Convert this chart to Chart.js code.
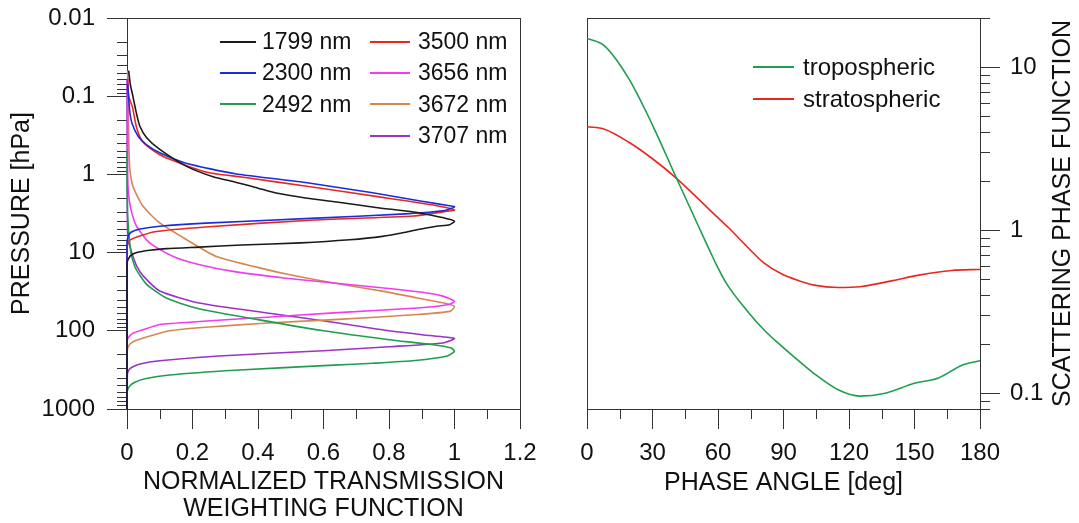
<!DOCTYPE html>
<html>
<head>
<meta charset="utf-8">
<script src="https://cdn.jsdelivr.net/npm/chart.js@4.4.1/dist/chart.umd.min.js"></script>
<style>
  html, body { margin: 0; padding: 0; background: #fff; }
  body { width: 1079px; height: 523px; position: relative; overflow: hidden;
         font-family: 'Liberation Sans', Arial, sans-serif; color: #111; }
  #leftCanvas { position: absolute; left: 0; top: 0; }
  #rightCanvas { position: absolute; left: 545px; top: 0; }
  .legend { position: absolute; font-size: 23px; }
  .legend .item { display: flex; align-items: center; height: 31.3px; white-space: nowrap; }
  .legend .swatch { display: inline-block; height: 2px; }
</style>
</head>
<body>
<canvas id="leftCanvas" width="545" height="523"></canvas>
<canvas id="rightCanvas" width="534" height="523"></canvas>
<div id="legendL1" class="legend" style="left:220px; top:26px"></div>
<div id="legendL2" class="legend" style="left:370px; top:26px"></div>
<div id="legendR" class="legend" style="left:753px; top:51px; font-size:24px"></div>
<script>
// ---- left panel: weighting functions (w = normalized weight, p = pressure hPa) ----
const w1799 = [0.005, 0.01, 0.018, 0.028, 0.039, 0.06, 0.1, 0.182, 0.265, 0.324, 0.40, 0.455, 0.545, 0.663, 0.76, 0.875, 0.94, 0.985, 1.0, 0.985, 0.945, 0.885, 0.85, 0.78, 0.68, 0.53, 0.35, 0.22, 0.12, 0.069, 0.03, 0.01, 0, 0];
const p1799 = [0.047, 0.07, 0.1, 0.16, 0.24, 0.34, 0.48, 0.79, 1.08, 1.23, 1.5, 1.73, 2.0, 2.32, 2.65, 3.03, 3.4, 3.75, 4.0, 4.4, 4.6, 5.1, 5.5, 6.2, 6.85, 7.5, 8.0, 8.5, 8.9, 9.35, 10.0, 11.0, 13.6, 1000];

const w2300 = [0.002, 0.008, 0.015, 0.035, 0.06, 0.1, 0.18, 0.33, 0.55, 0.75, 0.9, 0.98, 1.0, 0.97, 0.85, 0.56, 0.24, 0.1, 0.04, 0.012, 0.003, 0, 0];
const p2300 = [0.07, 0.15, 0.22, 0.33, 0.42, 0.53, 0.72, 0.98, 1.28, 1.72, 2.2, 2.5, 2.6, 2.9, 3.2, 3.65, 4.2, 4.6, 5.0, 5.5, 6.3, 7.5, 1000];

const w2492 = [0, 0.002, 0.012, 0.025, 0.06, 0.12, 0.21, 0.4, 0.6, 0.8, 0.93, 0.99, 1.0, 0.978, 0.88, 0.75, 0.631, 0.33, 0.13, 0.055, 0.024, 0.009, 0.002, 0, 0];
const p2492 = [0.5, 3.4, 10, 15.5, 25.5, 38, 51, 72, 100, 130, 150, 166, 183, 210, 240, 260, 275, 320, 368, 410, 455, 505, 566, 625, 1000];

const w3500 = [0.002, 0.005, 0.017, 0.028, 0.044, 0.075, 0.117, 0.24, 0.35, 0.56, 0.77, 0.93, 1.0, 0.98, 0.875, 0.56, 0.24, 0.085, 0.03, 0.01, 0, 0];
const p3500 = [0.06, 0.1, 0.14, 0.24, 0.36, 0.48, 0.61, 0.93, 1.08, 1.44, 1.94, 2.45, 2.85, 2.95, 3.4, 3.85, 4.7, 5.4, 6.3, 6.9, 8.3, 1000];

const w3656 = [0.002, 0.002, 0.003, 0.01, 0.029, 0.069, 0.141, 0.222, 0.324, 0.478, 0.631, 0.784, 0.916, 0.967, 1.0, 0.983, 0.886, 0.631, 0.427, 0.222, 0.1, 0.049, 0.018, 0.003, 0, 0];
const p3656 = [0.06, 0.8, 1.42, 2.56, 4.6, 7.5, 11.2, 14.3, 17.4, 21.1, 24.5, 28.4, 32.9, 36.3, 42, 46, 51, 59, 67, 76, 83, 97, 107, 124, 143, 1000];

const w3672 = [0.002, 0.003, 0.005, 0.008, 0.018, 0.049, 0.1, 0.182, 0.273, 0.427, 0.505, 0.631, 0.784, 0.886, 0.967, 1.0, 0.988, 0.886, 0.631, 0.42, 0.24, 0.13, 0.05, 0.016, 0.004, 0, 0];
const p3672 = [0.047, 0.1, 0.3, 0.79, 1.42, 2.56, 4.18, 6.84, 11.2, 16.5, 19.5, 24.5, 31.3, 38, 44, 48.7, 56, 62, 72, 80, 90, 100, 124, 140, 158, 192, 1000];

const w3707 = [0, 0.001, 0.003, 0.012, 0.03, 0.05, 0.1, 0.22, 0.44, 0.65, 0.8, 0.925, 1.0, 0.965, 0.8, 0.6, 0.28, 0.1, 0.04, 0.015, 0.005, 0.001, 0];
const p3707 = [0.06, 3, 6.8, 9.3, 15, 20, 31, 44, 60, 80, 100, 115, 125, 143, 160, 180, 210, 242, 266, 293, 320, 368, 1000];

const weightLabels = ['1799 nm', '2300 nm', '2492 nm', '3500 nm', '3656 nm', '3672 nm', '3707 nm'];
const weightColors = ['#1a1a1a', '#1c2bdc', '#1e9e4e', '#e8281e', '#ee3cee', '#d6874f', '#9a33c8'];

const weightTicks = [0, 0.2, 0.4, 0.6, 0.8, 1, 1.2];
const weightMinor = [0.1, 0.3, 0.5, 0.7, 0.9, 1.1];
const pressureTicks = [0.01, 0.1, 1, 10, 100, 1000];

// ---- right panel: phase functions ----
const tropAngle = [0, 8, 19, 30, 41, 51, 56, 59, 64, 73, 81, 89, 96, 104, 115, 125, 136, 150, 161, 172, 180];
const tropValue = [15, 13.5, 8.55, 4.41, 2.08, 1.06, 0.76, 0.624, 0.468, 0.324, 0.245, 0.195, 0.162, 0.132, 0.105, 0.096, 0.0995, 0.115, 0.124, 0.149, 0.158];

const stratAngle = [0, 8, 19, 30, 41, 57, 65, 73, 81, 89, 97, 104, 115, 125, 140, 152, 167, 180];
const stratValue = [4.31, 4.16, 3.47, 2.74, 2.08, 1.30, 1.03, 0.80, 0.63, 0.54, 0.49, 0.46, 0.445, 0.45, 0.49, 0.53, 0.566, 0.574];

const phaseLabels = ['tropospheric', 'stratospheric'];
const phaseColors = ['#1e9e4e', '#e8281e'];

const angleTicks = [0, 30, 60, 90, 120, 150, 180];
const angleMinor = [15, 45, 75, 105, 135, 165];
const phaseTicks = [0.1, 1, 10];
const phaseMinor = [0.08, 0.09, 0.2, 0.3, 0.4, 0.5, 0.6, 0.7, 0.8, 0.9, 2, 3, 4, 5, 6, 7, 8, 9, 20];

const AXIS = '#333';
const TEXT = '#111';
const FONT = "'Liberation Sans', Arial, sans-serif";

Chart.defaults.font.family = FONT;
Chart.defaults.color = TEXT;

function logMinors(lo, hi) {
    const out = [];
    for (let d = lo; d < hi; d *= 10) {
        for (let k = 2; k <= 9; k++) out.push(+(k * d).toPrecision(3));
    }
    return out;
}

// short ticks between the labelled ones
const minorTicksPlugin = {
    id: 'minorTicks',
    beforeDatasetsDraw(chart, args, opts) {
        const ctx = chart.ctx;
        ctx.save();
        ctx.strokeStyle = opts.color;
        ctx.lineWidth = 1;
        ctx.beginPath();
        Object.keys(opts.ticks).forEach(id => {
            const scale = chart.scales[id];
            opts.ticks[id].forEach(v => {
                const px = Math.round(scale.getPixelForValue(v)) + 0.5;
                if (scale.isHorizontal()) {
                    ctx.moveTo(px, scale.top); ctx.lineTo(px, scale.top + opts.length);
                } else if (scale.position === 'left') {
                    ctx.moveTo(scale.right - opts.length, px); ctx.lineTo(scale.right, px);
                } else {
                    ctx.moveTo(scale.left, px); ctx.lineTo(scale.left + opts.length, px);
                }
            });
        });
        ctx.stroke();
        ctx.restore();
    }
};

const framePlugin = {
    id: 'frame',
    beforeDatasetsDraw(chart, args, opts) {
        const {left, top, right, bottom} = chart.chartArea;
        const ctx = chart.ctx;
        ctx.save();
        ctx.strokeStyle = opts.color;
        ctx.lineWidth = 1;
        ctx.strokeRect(Math.round(left) + 0.5, Math.round(top) + 0.5,
                       Math.round(right) - Math.round(left), Math.round(bottom) - Math.round(top));
        ctx.restore();
    }
};

// right axis title reads bottom to top, which the built-in right title does not do
const sideTitlePlugin = {
    id: 'sideTitle',
    afterDraw(chart, args, opts) {
        const {top, bottom} = chart.chartArea;
        const ctx = chart.ctx;
        ctx.save();
        ctx.translate(opts.x, (top + bottom) / 2);
        ctx.rotate(-Math.PI / 2);
        ctx.font = opts.font;
        ctx.fillStyle = TEXT;
        ctx.textAlign = 'center';
        ctx.textBaseline = 'middle';
        ctx.fillText(opts.text, 0, 0);
        ctx.restore();
    }
};

function lineSet(label, color, xs, ys, extra) {
    return Object.assign({
        label: label,
        data: xs.map((x, i) => ({x: x, y: ys[i]})),
        borderColor: color,
        backgroundColor: color,
        borderWidth: 1.6,
        pointRadius: 0,
        showLine: true,
        fill: false,
        clip: 4
    }, extra || {});
}

const leftSets = [
    lineSet(weightLabels[0], weightColors[0], w1799, p1799),
    lineSet(weightLabels[1], weightColors[1], w2300, p2300),
    lineSet(weightLabels[2], weightColors[2], w2492, p2492),
    lineSet(weightLabels[3], weightColors[3], w3500, p3500),
    lineSet(weightLabels[4], weightColors[4], w3656, p3656),
    lineSet(weightLabels[5], weightColors[5], w3672, p3672),
    lineSet(weightLabels[6], weightColors[6], w3707, p3707)
].map(d => Object.assign(d, {tension: 0.2}));

const rightSets = [
    lineSet(phaseLabels[0], phaseColors[0], tropAngle, tropValue, {cubicInterpolationMode: 'monotone'}),
    lineSet(phaseLabels[1], phaseColors[1], stratAngle, stratValue, {cubicInterpolationMode: 'monotone'})
];

const tickFont = {size: 24};
const titleFont = {size: 25, lineHeight: 1.08};

new Chart(document.getElementById('leftCanvas'), {
    type: 'scatter',
    data: {datasets: leftSets},
    options: {
        responsive: false, animation: false, events: [],
        layout: {padding: {left: 0, top: 18, right: 25, bottom: 0}},
        plugins: {
            legend: {display: false}, tooltip: {enabled: false},
            minorTicks: {color: AXIS, length: 10, ticks: {x: weightMinor, y: logMinors(0.01, 1000)}},
            frame: {color: AXIS}
        },
        scales: {
            x: {
                type: 'linear', position: 'bottom', min: 0, max: 1.2,
                afterBuildTicks: s => { s.ticks = weightTicks.map(v => ({value: v})); },
                afterFit: s => { s.height = 114; s.paddingLeft = 0; s.paddingRight = 0; },
                grid: {drawOnChartArea: false, tickLength: 20, color: AXIS},
                border: {display: false},
                ticks: {autoSkip: false, maxRotation: 0, padding: 10, font: tickFont, color: TEXT, callback: v => String(v)},
                title: {display: true, text: ['NORMALIZED TRANSMISSION', 'WEIGHTING FUNCTION'],
                        font: titleFont, color: TEXT, padding: {top: 0, bottom: 0}}
            },
            y: {
                type: 'logarithmic', position: 'left', reverse: true, min: 0.01, max: 1000,
                afterBuildTicks: s => { s.ticks = pressureTicks.map(v => ({value: v})); },
                afterFit: s => { s.width = 127; s.paddingTop = 0; s.paddingBottom = 0; },
                grid: {drawOnChartArea: false, tickLength: 20, color: AXIS},
                border: {display: false},
                ticks: {autoSkip: false, padding: 12, font: tickFont, color: TEXT, callback: v => String(v)},
                title: {display: true, text: 'PRESSURE [hPa]', font: titleFont, color: TEXT, padding: {top: 9, bottom: 0}}
            }
        }
    },
    plugins: [minorTicksPlugin, framePlugin]
});

new Chart(document.getElementById('rightCanvas'), {
    type: 'scatter',
    data: {datasets: rightSets},
    options: {
        responsive: false, animation: false, events: [],
        layout: {padding: {left: 42, top: 18, right: 0, bottom: 0}},
        plugins: {
            legend: {display: false}, tooltip: {enabled: false},
            minorTicks: {color: AXIS, length: 10, ticks: {x: angleMinor, y: phaseMinor}},
            frame: {color: AXIS},
            sideTitle: {text: 'SCATTERING PHASE FUNCTION', x: 518, font: '25px ' + FONT}
        },
        scales: {
            x: {
                type: 'linear', position: 'bottom', min: 0, max: 180,
                afterBuildTicks: s => { s.ticks = angleTicks.map(v => ({value: v})); },
                afterFit: s => { s.height = 114; s.paddingLeft = 0; s.paddingRight = 0; },
                grid: {drawOnChartArea: false, tickLength: 20, color: AXIS},
                border: {display: false},
                ticks: {autoSkip: false, maxRotation: 0, padding: 10, font: tickFont, color: TEXT, callback: v => String(v)},
                title: {display: true, text: 'PHASE ANGLE [deg]', font: titleFont, color: TEXT, padding: {top: 0, bottom: 26.5}}
            },
            y: {
                type: 'logarithmic', position: 'right', min: 0.08, max: 20,
                afterBuildTicks: s => { s.ticks = phaseTicks.map(v => ({value: v})); },
                afterFit: s => { s.width = 99; s.paddingTop = 0; s.paddingBottom = 0; },
                grid: {drawOnChartArea: false, tickLength: 20, color: AXIS},
                border: {display: false},
                ticks: {autoSkip: false, padding: 10, font: tickFont, color: TEXT, callback: v => String(v)}
            }
        }
    },
    plugins: [minorTicksPlugin, framePlugin, sideTitlePlugin]
});

// legends, built from the datasets
function buildLegend(el, sets, swatch, gap) {
    sets.forEach(d => {
        const row = document.createElement('div');
        row.className = 'item';
        const line = document.createElement('span');
        line.className = 'swatch';
        line.style.background = d.borderColor;
        line.style.width = swatch + 'px';
        line.style.marginRight = gap + 'px';
        const txt = document.createElement('span');
        txt.textContent = d.label;
        row.appendChild(line);
        row.appendChild(txt);
        el.appendChild(row);
    });
}
buildLegend(document.getElementById('legendL1'), leftSets.slice(0, 3), 36, 6);
buildLegend(document.getElementById('legendL2'), leftSets.slice(3), 40, 8);
buildLegend(document.getElementById('legendR'), rightSets, 41, 9);
document.getElementById('legendR').querySelectorAll('.item').forEach(r => r.style.height = '32px');
</script>
</body>
</html>
